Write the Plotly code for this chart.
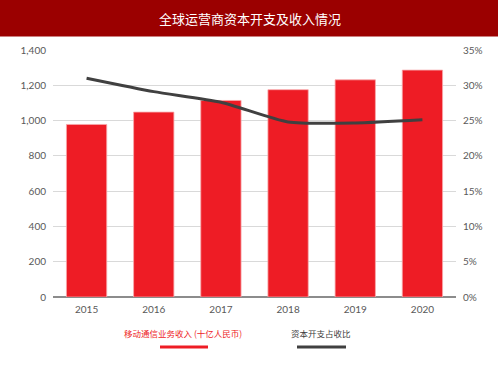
import plotly.graph_objects as go

years = ["2015", "2016", "2017", "2018", "2019", "2020"]
revenue = [978, 1048, 1114, 1175, 1231, 1286]          # 十亿人民币
capex_ratio = [0.310, 0.291, 0.276, 0.248, 0.2465, 0.251]

title_text = "全球运营商资本开支及收入情况"
bar_name = "移动通信业务收入 (十亿人民币)"
line_name = "资本开支占收比"

BAR_COLOR = "#EE1C25"
LINE_COLOR = "#404040"
TICK_COLOR = "#595959"
FONT = "Lato, 'Noto Sans CJK SC', sans-serif"
CJK = "'Noto Sans CJK SC', sans-serif"

fig = go.Figure()
fig.add_trace(go.Bar(
    x=years, y=revenue, name=bar_name,
    marker=dict(color=BAR_COLOR, line=dict(color="#F7A8AB", width=0.8)),
    width=0.6, yaxis="y",
))
fig.add_trace(go.Scatter(
    x=years, y=capex_ratio, name=line_name, mode="lines",
    line=dict(color=LINE_COLOR, width=3, shape="spline", smoothing=0.6),
    yaxis="y2",
))

fig.update_layout(
    width=500, height=375,
    margin=dict(l=53, r=44, t=50, b=78),
    paper_bgcolor="white", plot_bgcolor="white",
    showlegend=False,
    font=dict(family=FONT, size=10, color=TICK_COLOR),
    xaxis=dict(
        type="category", showgrid=False, showline=False, ticks="",
        ticklabelstandoff=5,
        tickfont=dict(size=10, color=TICK_COLOR),
    ),
    yaxis=dict(
        range=[0, 1400], dtick=200, tickformat=",",
        showgrid=True, gridcolor="#D9D9D9", gridwidth=1.2,
        zeroline=True, zerolinecolor="#8C8C8C", zerolinewidth=1.5,
        showline=False, ticks="", ticklabelstandoff=6,
        tickfont=dict(size=10, color=TICK_COLOR),
    ),
    yaxis2=dict(
        range=[0, 0.35], dtick=0.05, tickformat=".0%",
        overlaying="y", side="right", showgrid=False, zeroline=False,
        showline=False, ticks="", ticklabelstandoff=6,
        tickfont=dict(size=10, color=TICK_COLOR),
    ),
)

def px_to_paper_y(py):
    return (297 - py) / 247

def px_to_paper_x(px):
    return (px - 53) / 403

shapes = [
    dict(type="rect", xref="paper", yref="paper",
         x0=px_to_paper_x(0), x1=px_to_paper_x(498),
         y0=px_to_paper_y(36.5), y1=px_to_paper_y(0),
         fillcolor="#9B0000", line=dict(width=0), layer="above"),
    dict(type="line", xref="paper", yref="paper",
         x0=px_to_paper_x(160), x1=px_to_paper_x(208),
         y0=px_to_paper_y(347), y1=px_to_paper_y(347),
         line=dict(color=BAR_COLOR, width=3)),
    dict(type="line", xref="paper", yref="paper",
         x0=px_to_paper_x(297), x1=px_to_paper_x(346),
         y0=px_to_paper_y(347), y1=px_to_paper_y(347),
         line=dict(color=LINE_COLOR, width=3)),
]

annotations = [
    dict(text=title_text, xref="paper", yref="paper",
         x=px_to_paper_x(250), y=px_to_paper_y(18), showarrow=False,
         font=dict(size=13, color="white", family=CJK),
         xanchor="center", yanchor="middle"),
    dict(text=bar_name, xref="paper", yref="paper",
         x=px_to_paper_x(183), y=px_to_paper_y(333), showarrow=False,
         font=dict(size=8.5, color=BAR_COLOR, family=CJK),
         xanchor="center", yanchor="middle"),
    dict(text=line_name, xref="paper", yref="paper",
         x=px_to_paper_x(321), y=px_to_paper_y(333), showarrow=False,
         font=dict(size=8.5, color=LINE_COLOR, family=CJK),
         xanchor="center", yanchor="middle"),
]

fig.update_layout(shapes=shapes, annotations=annotations)
fig.write_html(
    "out.html",
    config={"displayModeBar": False},
    post_script="document.body.style.margin='0';document.body.style.padding='0';",
)
